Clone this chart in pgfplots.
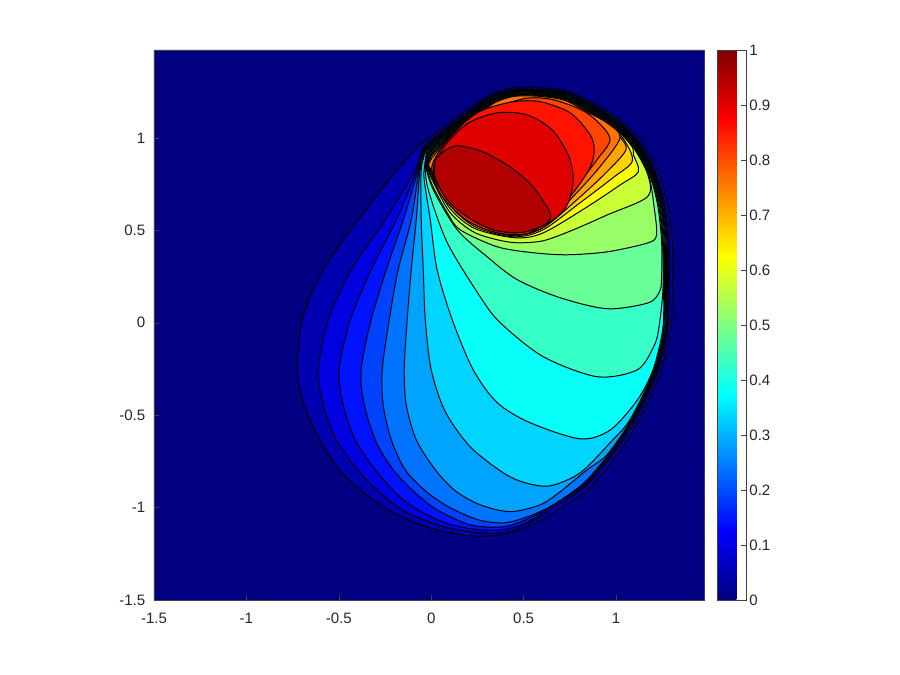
\documentclass[border=0pt]{standalone}
\usepackage{pgfplots}
\usepackage{fontspec}
\setmainfont{Liberation Sans}
\pgfplotsset{compat=1.18}
\definecolor{k0}{rgb}{0,0,.5}
\definecolor{k1}{rgb}{0,0,.69}
\definecolor{k2}{rgb}{0,0,.881}
\definecolor{k3}{rgb}{0,.071,1}
\definecolor{k4}{rgb}{0,.262,1}
\definecolor{k5}{rgb}{0,.452,1}
\definecolor{k6}{rgb}{0,.643,1}
\definecolor{k7}{rgb}{0,.833,1}
\definecolor{k8}{rgb}{.024,1,.976}
\definecolor{k9}{rgb}{.214,1,.786}
\definecolor{k10}{rgb}{.405,1,.595}
\definecolor{k11}{rgb}{.595,1,.405}
\definecolor{k12}{rgb}{.786,1,.214}
\definecolor{k13}{rgb}{.976,1,.024}
\definecolor{k14}{rgb}{1,.833,0}
\definecolor{k15}{rgb}{1,.643,0}
\definecolor{k16}{rgb}{1,.452,0}
\definecolor{k17}{rgb}{1,.262,0}
\definecolor{k18}{rgb}{1,.071,0}
\definecolor{k19}{rgb}{.881,0,0}
\definecolor{k20}{rgb}{.69,0,0}
\pgfplotsset{cl/.style={draw=black,line width=.75pt,smooth,no markers,fill=#1}}
\begin{document}
\begin{tikzpicture}
\path[use as bounding box] (-115.5pt,-56.25pt) rectangle (559.5pt,450pt);
\begin{axis}[
 at={(0,0)},anchor=south west,
 scale only axis,width=412.5pt,height=412.5pt,
 xmin=-1.5,xmax=1.476,ymin=-1.5,ymax=1.476,
 xtick={-1.5,-1,-0.5,0,0.5,1},ytick={-1.5,-1,-0.5,0,0.5,1},
 xticklabels={-1.5,-1,-0.5,0,0.5,1},yticklabels={-1.5,-1,-0.5,0,0.5,1},
 tick align=inside,major tick length=4pt,xtick pos=bottom,ytick pos=left,
 axis line style={draw=black!75,line width=.5pt},
 every tick/.style={draw=black!75,line width=.4pt},
 ticklabel style={font=\fontsize{11.3}{13}\selectfont,text=black!85},
 xticklabel style={yshift=-6.5pt},
 yticklabel style={xshift=-3pt},
 axis on top=true,
 colormap/jet,point meta min=0,point meta max=1,
 colorbar,
 colorbar style={
  at={(parent axis.south east)},anchor=south west,xshift=1.5pt,
  scale only axis,width=21.5pt,height=412.5pt,
  ymin=0,ymax=1,
  ytick={0,0.1,0.2,0.3,0.4,0.5,0.6,0.7,0.8,0.9,1},
  yticklabels={0,0.1,0.2,0.3,0.4,0.5,0.6,0.7,0.8,0.9,1},
  ytick align=inside,major tick length=3.5pt,ytick pos=right,yticklabel pos=right,
  axis line style={draw=black!75,line width=.5pt},
  yticklabel style={xshift=-1pt},
 },
]
\addplot[fill=k0,draw=none,no markers] coordinates {(-1.5,-1.5)(1.476,-1.5)(1.476,1.476)(-1.5,1.476)(-1.5,-1.5)};
% k1
\addplot[cl=k1] coordinates {(-.060,.963)(.065,1.061)(.195,1.153)(.320,1.234)(.444,1.272)(.590,1.272)(.737,1.255)(.878,1.190)(1.024,1.098)(1.132,.990)(1.224,.828)(1.278,.649)(1.305,.433)(1.305,.179)(1.295,-.038)(1.241,-.265)(1.116,-.541)(.986,-.741)(.845,-.904)(.660,-1.028)(.536,-1.098)(.390,-1.147)(.211,-1.152)(.032,-1.120)(-.151,-1.055)(-.330,-.947)(-.498,-.795)(-.611,-.617)(-.687,-.444)(-.725,-.254)(-.698,.016)(-.584,.287)(-.395,.557)(-.184,.828)(-.060,.963)};
% k2
\addplot[cl=k2] coordinates {(-.048,.951)(.073,1.051)(.201,1.143)(.323,1.225)(.445,1.263)(.590,1.263)(.734,1.246)(.873,1.181)(1.016,1.089)(1.122,.982)(1.211,.822)(1.263,.646)(1.289,.433)(1.289,.179)(1.281,-.037)(1.228,-.261)(1.102,-.533)(.972,-.729)(.833,-.888)(.651,-1.007)(.536,-1.082)(.390,-1.136)(.211,-1.131)(.032,-1.093)(-.151,-1.017)(-.276,-.920)(-.400,-.795)(-.514,-.633)(-.584,-.444)(-.611,-.254)(-.557,.016)(-.433,.287)(-.249,.557)(-.087,.828)(-.048,.951)};
% k3
\addplot[cl=k3] coordinates {(-.042,.945)(.077,1.045)(.204,1.138)(.324,1.221)(.445,1.259)(.589,1.259)(.733,1.241)(.870,1.176)(1.012,1.085)(1.116,.978)(1.205,.820)(1.256,.645)(1.281,.433)(1.282,.179)(1.274,-.036)(1.221,-.259)(1.095,-.529)(.965,-.723)(.828,-.881)(.647,-.996)(.536,-1.071)(.390,-1.120)(.211,-1.114)(.032,-1.066)(-.151,-.958)(-.303,-.795)(-.411,-.633)(-.476,-.444)(-.498,-.254)(-.438,.016)(-.325,.287)(-.189,.557)(-.076,.828)(-.042,.945)};
% k4
\addplot[cl=k4] coordinates {(-.038,.941)(.079,1.042)(.206,1.135)(.325,1.218)(.445,1.257)(.589,1.257)(.732,1.238)(.868,1.173)(1.010,1.082)(1.113,.976)(1.201,.818)(1.252,.644)(1.276,.433)(1.277,.179)(1.270,-.035)(1.217,-.257)(1.091,-.526)(.961,-.719)(.824,-.876)(.644,-.989)(.536,-1.055)(.390,-1.104)(.211,-1.093)(.032,-1.012)(-.087,-.920)(-.206,-.795)(-.298,-.644)(-.362,-.444)(-.379,-.254)(-.325,.016)(-.243,.287)(-.151,.557)(-.070,.828)(-.038,.941)};
% k5
\addplot[cl=k5] coordinates {(-.035,.938)(.081,1.039)(.208,1.132)(.326,1.216)(.446,1.254)(.589,1.254)(.731,1.236)(.867,1.171)(1.008,1.079)(1.110,.974)(1.198,.816)(1.247,.643)(1.271,.433)(1.272,.179)(1.266,-.035)(1.213,-.256)(1.087,-.524)(.957,-.716)(.821,-.871)(.660,-.985)(.536,-1.044)(.400,-1.082)(.254,-1.066)(.092,-.995)(-.032,-.909)(-.141,-.795)(-.216,-.633)(-.260,-.444)(-.265,-.254)(-.227,.016)(-.179,.287)(-.108,.557)(-.065,.828)(-.035,.938)};
% k6
\addplot[cl=k6] coordinates {(-.031,.934)(.084,1.036)(.209,1.129)(.327,1.213)(.446,1.251)(.589,1.251)(.730,1.233)(.865,1.168)(1.005,1.076)(1.107,.971)(1.194,.815)(1.243,.642)(1.266,.433)(1.268,.179)(1.261,-.035)(1.209,-.255)(1.083,-.521)(.953,-.712)(.844,-.795)(.698,-.914)(.590,-.985)(.427,-1.022)(.265,-.985)(.130,-.909)(.022,-.795)(-.081,-.633)(-.135,-.444)(-.146,-.254)(-.130,.016)(-.108,.287)(-.081,.557)(-.060,.828)(-.031,.934)};
% k7
\addplot[cl=k7] coordinates {(-.028,.931)(.086,1.033)(.211,1.126)(.328,1.210)(.446,1.249)(.589,1.249)(.729,1.230)(.863,1.165)(1.003,1.074)(1.104,.969)(1.190,.813)(1.239,.641)(1.261,.433)(1.263,.179)(1.257,-.034)(1.205,-.254)(1.079,-.519)(.968,-.649)(.806,-.812)(.644,-.882)(.509,-.866)(.390,-.812)(.211,-.671)(.076,-.481)(0,-.254)(-.032,.016)(-.043,.287)(-.054,.557)(-.054,.828)(-.028,.931)};
% k8
\addplot[cl=k8] coordinates {(-.024,.927)(.088,1.030)(.213,1.123)(.328,1.208)(.446,1.246)(.589,1.246)(.728,1.227)(.862,1.162)(1.001,1.071)(1.101,.967)(1.186,.811)(1.234,.640)(1.256,.433)(1.258,.179)(1.253,-.034)(1.201,-.252)(1.116,-.417)(.970,-.579)(.807,-.628)(.536,-.541)(.358,-.433)(.227,-.254)(.114,.016)(.032,.287)(-.005,.557)(-.038,.774)(-.035,.855)(-.024,.927)};
% k9
\addplot[cl=k9] coordinates {(-.020,.923)(.091,1.027)(.215,1.120)(.329,1.205)(.447,1.244)(.589,1.244)(.727,1.225)(.860,1.160)(.998,1.068)(1.098,.964)(1.182,.810)(1.230,.639)(1.252,.433)(1.254,.179)(1.230,-.038)(1.203,-.130)(1.116,-.254)(.899,-.292)(.607,-.184)(.374,0)(.265,.141)(.087,.433)(-.016,.720)(-.032,.855)(-.020,.923)};
% k10
\addplot[cl=k10] coordinates {(-.017,.920)(.093,1.024)(.217,1.117)(.330,1.202)(.447,1.241)(.589,1.241)(.726,1.222)(.859,1.157)(.996,1.066)(1.095,.962)(1.179,.808)(1.225,.638)(1.247,.433)(1.246,.233)(1.235,.168)(1.175,.108)(.953,.076)(.699,.135)(.466,.233)(.303,.357)(.141,.503)(.011,.720)(-.030,.855)(-.017,.920)};
% k11
\addplot[cl=k11] coordinates {(-.013,.916)(.095,1.020)(.218,1.114)(.331,1.200)(.447,1.238)(.588,1.238)(.725,1.219)(.857,1.154)(.994,1.063)(1.091,.960)(1.175,.806)(1.208,.611)(1.219,.476)(1.175,.433)(.953,.384)(.737,.368)(.553,.379)(.358,.411)(.157,.503)(.087,.595)(.005,.747)(-.027,.855)(-.013,.916)};
% k12
\addplot[cl=k12] coordinates {(-.010,.913)(.098,1.017)(.220,1.111)(.332,1.197)(.447,1.236)(.588,1.236)(.724,1.216)(.855,1.151)(.991,1.060)(1.088,.957)(1.171,.804)(1.170,.682)(.953,.584)(.769,.503)(.607,.444)(.466,.433)(.358,.449)(.228,.492)(.103,.595)(.005,.774)(-.024,.855)(-.010,.913)};
% k13
\addplot[cl=k13] coordinates {(-.006,.909)(.100,1.014)(.222,1.108)(.333,1.194)(.448,1.233)(.588,1.233)(.724,1.214)(.854,1.149)(.989,1.058)(1.085,.955)(1.094,.909)(1.121,.817)(1.024,.747)(.845,.628)(.607,.487)(.455,.460)(.238,.509)(.103,.617)(0,.795)(-.022,.855)(-.006,.909)};
% k14
\addplot[cl=k14] coordinates {(-.003,.906)(.102,1.012)(.224,1.106)(.333,1.192)(.448,1.231)(.588,1.231)(.723,1.211)(.852,1.146)(.987,1.055)(1.060,.963)(1.087,.871)(.984,.785)(.805,.649)(.605,.503)(.444,.465)(.238,.519)(.103,.633)(0,.806)(-.019,.855)(-.003,.906)};
% k15
\addplot[cl=k15] coordinates {(0,.903)(.104,1.009)(.225,1.103)(.334,1.190)(.448,1.229)(.588,1.229)(.722,1.209)(.851,1.144)(.985,1.053)(1.022,1.006)(1.054,.936)(.951,.817)(.789,.666)(.605,.514)(.439,.471)(.238,.530)(.108,.644)(0,.817)(-.016,.855)(0,.903)};
% k16
\addplot[cl=k16] coordinates {(.006,.897)(.108,1.004)(.228,1.098)(.335,1.186)(.448,1.225)(.588,1.225)(.721,1.204)(.848,1.139)(.957,1.077)(1.022,1.001)(.913,.844)(.767,.682)(.605,.519)(.428,.476)(.238,.541)(.114,.655)(0,.828)(-.014,.855)(.006,.897)};
% k17
\addplot[cl=k17] coordinates {(.016,.880)(.092,.990)(.211,1.109)(.372,1.175)(.518,1.215)(.659,1.207)(.843,1.135)(.967,1.001)(.897,.882)(.751,.693)(.627,.530)(.482,.476)(.320,.514)(.184,.590)(.087,.682)(.005,.817)(.016,.880)};
% k18
\addplot[cl=k18] coordinates {(.022,.892)(.076,.974)(.184,1.087)(.281,1.152)(.444,1.196)(.590,1.196)(.752,1.136)(.860,1.017)(.882,.936)(.859,.839)(.768,.703)(.644,.563)(.519,.482)(.357,.487)(.195,.552)(.065,.676)(.011,.785)(.022,.892)};
% k19
\addplot[cl=k19] coordinates {(.011,.812)(.065,.947)(.195,1.077)(.357,1.136)(.519,1.125)(.654,1.044)(.741,.909)(.768,.774)(.736,.638)(.644,.546)(.465,.487)(.281,.525)(.141,.617)(.032,.747)(.011,.812)};
% k20
\addplot[cl=k20] coordinates {(.021,.882)(.064,.925)(.140,.958)(.280,.925)(.426,.844)(.551,.736)(.643,.595)(.627,.541)(.551,.503)(.464,.487)(.334,.503)(.194,.574)(.086,.666)(.021,.790)(.021,.882)};
\end{axis}
\end{tikzpicture}
\end{document}
